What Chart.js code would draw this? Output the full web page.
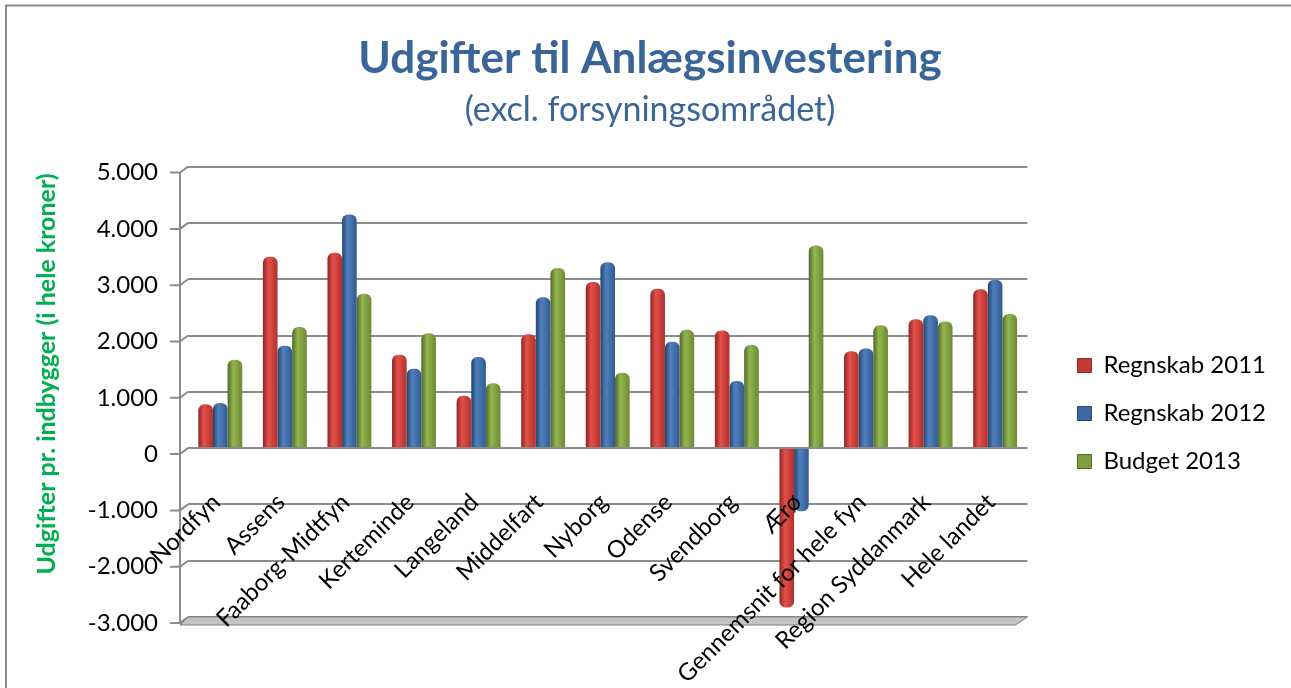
<!DOCTYPE html>
<html>
<head>
<meta charset="utf-8">
<script src="https://cdn.jsdelivr.net/npm/chart.js@4.4.1/dist/chart.umd.min.js"></script>
<style>
  html, body { margin: 0; padding: 0; background: #fff; }
  #wrap { width: 1291px; height: 688px; }
</style>
</head>
<body>
<div id="wrap"><canvas id="chart"></canvas></div>
<script>
// ---- Data ----
const categories = [
  "Nordfyn", "Assens", "Faaborg-Midtfyn", "Kerteminde", "Langeland", "Middelfart",
  "Nyborg", "Odense", "Svendborg", "Ærø", "Gennemsnit for hele fyn",
  "Region Syddanmark", "Hele landet"
];
const regnskab2011 = [780, 3400, 3470, 1660, 930, 2020, 2950, 2830, 2090, -2830, 1720, 2290, 2820];
const regnskab2012 = [800, 1820, 4150, 1410, 1620, 2680, 3300, 1890, 1190, -1120, 1770, 2360, 2990];
const budget2013 = [1570, 2150, 2740, 2040, 1150, 3200, 1340, 2100, 1830, 3600, 2180, 2250, 2380];
const yMin = -3000;
const yMax = 5000;
const yStep = 1000;

const CAT_PCT = 0.68;
const FONT = "Lato, 'Open Sans', sans-serif";
Chart.defaults.font.family = FONT;
Chart.defaults.color = "#000";

const palette = [
  { solid: "#c23a35", dark: "#8e2522", light: "#e4504a", edge: "#b1302c" },
  { solid: "#3d6aa3", dark: "#22456f", light: "#4f80bd", edge: "#325b8f" },
  { solid: "#7f9f3e", dark: "#506827", light: "#94b650", edge: "#6c8a33" }
];

// cylinder-like shading, computed from the x scale
function shade(p) {
  return ctx => {
    const chart = ctx.chart;
    const xs = chart.scales && chart.scales.x;
    if (!xs || ctx.type !== "data" || !xs.width) return p.solid;
    const cw = xs.width / categories.length * CAT_PCT;
    const bw = cw / 3;
    const left = xs.getPixelForValue(ctx.dataIndex) - cw / 2 + ctx.datasetIndex * bw;
    const g = chart.ctx.createLinearGradient(left, 0, left + bw, 0);
    g.addColorStop(0, p.dark);
    g.addColorStop(0.38, p.light);
    g.addColorStop(1, p.edge);
    return g;
  };
}

function fmt(v) {
  return String(v).replace(/\B(?=(\d{3})+(?!\d))/g, ".");
}

// frame, side wall, floor and the y axis title
const decor = {
  id: "decor",
  beforeDatasetsDraw(chart) {
    const { ctx, chartArea: a, scales: { y } } = chart;
    ctx.save();
    ctx.strokeStyle = "#8c8c8c";
    ctx.lineWidth = 2;
    const top = y.getPixelForValue(yMax);
    const bot = y.getPixelForValue(yMin);
    ctx.beginPath();
    ctx.moveTo(a.left - 8, top + 6);
    ctx.lineTo(a.left - 8, bot + 6);
    ctx.stroke();
    y.ticks.forEach(t => {
      const py = y.getPixelForValue(t.value);
      ctx.beginPath();
      ctx.moveTo(a.left - 18, py + 6);
      ctx.lineTo(a.left - 8, py + 6);
      ctx.lineTo(a.left, py);
      ctx.stroke();
    });
    // floor edge
    ctx.fillStyle = "#c4c4c4";
    ctx.lineWidth = 1;
    ctx.strokeStyle = "#7f7f7f";
    ctx.beginPath();
    ctx.moveTo(a.left - 8, bot + 8);
    ctx.lineTo(a.left, bot);
    ctx.lineTo(a.right, bot);
    ctx.lineTo(a.right - 12, bot + 8);
    ctx.closePath();
    ctx.fill();
    ctx.stroke();
    ctx.restore();
  },
  afterDraw(chart) {
    const { ctx } = chart;
    ctx.save();
    ctx.strokeStyle = "#8c8c8c";
    ctx.lineWidth = 2;
    ctx.beginPath();
    ctx.moveTo(6, 700);
    ctx.lineTo(6, 5.5);
    ctx.lineTo(1300, 5.5);
    ctx.stroke();
    ctx.translate(47, 374);
    ctx.rotate(-Math.PI / 2);
    ctx.fillStyle = "#00b050";
    ctx.font = "bold 25px " + FONT;
    ctx.textAlign = "center";
    ctx.textBaseline = "middle";
    ctx.fillText("Udgifter pr. indbygger (i hele kroner)", 0, 0);
    ctx.restore();
  }
};

const series = [
  { label: "Regnskab 2011", data: regnskab2011 },
  { label: "Regnskab 2012", data: regnskab2012 },
  { label: "Budget 2013", data: budget2013 }
];

new Chart(document.getElementById("chart"), {
  type: "bar",
  data: {
    labels: categories,
    datasets: series.map((s, i) => ({
      label: s.label,
      data: s.data,
      backgroundColor: shade(palette[i]),
      borderWidth: 0,
      borderRadius: 6,
      borderSkipped: "start",
      categoryPercentage: CAT_PCT,
      barPercentage: 1.0
    }))
  },
  options: {
    responsive: true,
    maintainAspectRatio: false,
    animation: false,
    layout: { padding: { left: 24, right: 15, top: 0, bottom: 71 } },
    plugins: {
      title: {
        display: true,
        text: "Udgifter til Anlægsinvestering",
        color: "#3a6597",
        font: { size: 44, weight: "bold" },
        padding: { top: 32, bottom: 0 }
      },
      subtitle: {
        display: true,
        text: "(excl. forsyningsområdet)",
        color: "#3a6597",
        font: { size: 34 },
        padding: { top: 5, bottom: 36 }
      },
      legend: {
        position: "right",
        maxWidth: 300,
        title: { display: true, text: "", font: { size: 10 }, padding: { top: 198, bottom: 0 } },
        labels: {
          font: { size: 24 },
          boxWidth: 14,
          boxHeight: 14,
          padding: 24,
          generateLabels(chart) {
            return chart.data.datasets.map((d, i) => ({
              text: d.label,
              fillStyle: palette[i].solid,
              strokeStyle: palette[i].dark,
              lineWidth: 1,
              datasetIndex: i
            }));
          }
        }
      },
      tooltip: { enabled: false }
    },
    scales: {
      x: {
        position: { y: 0 },
        offset: true,
        grid: { display: false },
        border: { display: false },
        ticks: {
          z: 1,
          font: { size: 24 },
          minRotation: 45,
          maxRotation: 45,
          autoSkip: false,
          padding: 32,
          labelOffset: -4
        }
      },
      y: {
        min: yMin,
        max: yMax,
        grid: { color: "#8c8c8c", lineWidth: 2, drawTicks: false },
        border: { display: false },
        ticks: {
          stepSize: yStep,
          font: { size: 24 },
          padding: 30,
          labelOffset: 6,
          callback: v => fmt(v)
        },
        afterFit: s => { s.width = 164; }
      },
      y2: {
        type: "linear",
        position: "right",
        display: true,
        grid: { display: false },
        border: { display: false },
        ticks: { display: false },
        afterFit: s => { s.width = 26; }
      }
    }
  },
  plugins: [decor]
});
</script>
</body>
</html>
